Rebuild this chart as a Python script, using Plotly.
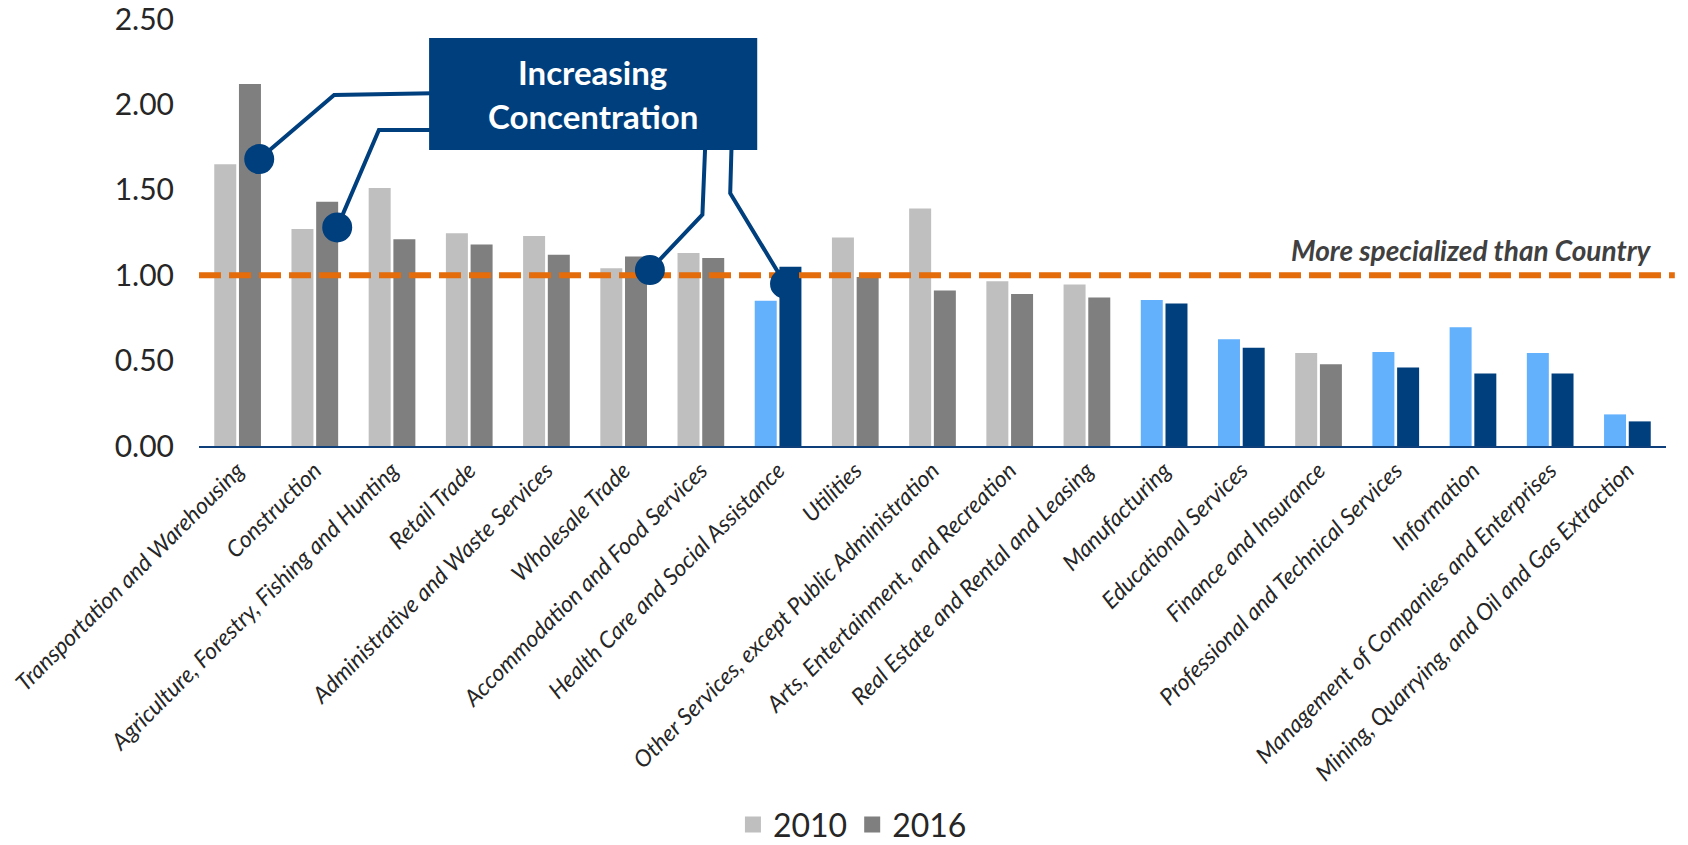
import plotly.graph_objects as go

# Location quotients by industry
industries = [
    "Transportation and Warehousing",
    "Construction",
    "Agriculture, Forestry, Fishing and Hunting",
    "Retail Trade",
    "Administrative and Waste Services",
    "Wholesale Trade",
    "Accommodation and Food Services",
    "Health Care and Social Assistance",
    "Utilities",
    "Other Services, except Public Administration",
    "Arts, Entertainment, and Recreation",
    "Real Estate and Rental and Leasing",
    "Manufacturing",
    "Educational Services",
    "Finance and Insurance",
    "Professional and Technical Services",
    "Information",
    "Management of Companies and Enterprises",
    "Mining, Quarrying, and Oil and Gas Extraction",
]
lq_2010 = [1.65, 1.27, 1.51, 1.245, 1.23, 1.04, 1.13, 0.85, 1.22, 1.39,
           0.965, 0.945, 0.855, 0.625, 0.545, 0.55, 0.695, 0.545, 0.185]
lq_2016 = [2.12, 1.43, 1.21, 1.18, 1.12, 1.11, 1.10, 1.05, 0.99, 0.91,
           0.89, 0.87, 0.835, 0.575, 0.478, 0.46, 0.425, 0.425, 0.144]

# Industries shown in blue
highlighted = {
    "Health Care and Social Assistance",
    "Manufacturing",
    "Educational Services",
    "Professional and Technical Services",
    "Information",
    "Management of Companies and Enterprises",
    "Mining, Quarrying, and Oil and Gas Extraction",
}

# Industries called out as increasing concentration: (industry, point on the 2016 bar)
callouts = [
    ("Transportation and Warehousing", 1.68),
    ("Construction", 1.28),
    ("Wholesale Trade", 1.03),
    ("Health Care and Social Assistance", 0.95),
]
callout_dx = [0.28, 0.29, 0.34, 0.09]

GREY_LIGHT, GREY_DARK = "#BFBFBF", "#7F7F7F"
BLUE_LIGHT, NAVY = "#63B1FD", "#003F7D"
ORANGE = "#E46C0A"
FONT = "Lato"

c2010 = [BLUE_LIGHT if c in highlighted else GREY_LIGHT for c in industries]
c2016 = [NAVY if c in highlighted else GREY_DARK for c in industries]

fig = go.Figure()
fig.add_trace(go.Bar(x=industries, y=lq_2010, name="2010", showlegend=False,
                     marker=dict(color=c2010, line=dict(width=0))))
fig.add_trace(go.Bar(x=industries, y=lq_2016, name="2016", showlegend=False,
                     marker=dict(color=c2016, line=dict(width=0))))
# legend keys (grey squares for each year)
for name, col in (("2010", GREY_LIGHT), ("2016", GREY_DARK)):
    fig.add_trace(go.Scatter(x=[None], y=[None], mode="markers", name=name,
                             marker=dict(symbol="square", size=16, color=col)))

shapes = []
# national benchmark line (LQ = 1)
shapes.append(dict(type="line", xref="paper", yref="y", x0=0, x1=1.006, y0=1, y1=1,
                   line=dict(color=ORANGE, width=6, dash="22px,8px")))

# connector paths from the label box to the bars
idx = {c: i for i, c in enumerate(industries)}
elbows = [
    [(1.25, 2.055), (2.7, 2.067)],
    [(1.83, 1.85), (2.7, 1.85)],
    [(6.02, 1.355), (6.06, 1.8)],
    [(6.38, 1.48), (6.40, 1.8)],
]
for (name, yv), dx, pts in zip(callouts, callout_dx, elbows):
    x0 = idx[name] + dx
    path = f"M{x0},{yv}" + "".join(f" L{px},{py}" for px, py in pts)
    shapes.append(dict(type="path", xref="x", yref="y", path=path,
                       line=dict(color=NAVY, width=4)))
for (name, yv), dx in zip(callouts, callout_dx):
    x0 = idx[name] + dx
    shapes.append(dict(type="circle", xref="x", yref="y",
                       xsizemode="pixel", ysizemode="pixel",
                       xanchor=x0, yanchor=yv, x0=-15, x1=15, y0=-15, y1=15,
                       fillcolor=NAVY, line=dict(width=0)))
# label box
shapes.append(dict(type="rect", xref="x", yref="y", x0=2.48, x1=6.73, y0=1.733, y1=2.389,
                   fillcolor=NAVY, line=dict(width=0)))

annotations = [
    dict(text="<b>Increasing</b>", xref="x", yref="y", x=4.60, y=2.187,
         showarrow=False, font=dict(family=FONT, size=33, color="white")),
    dict(text="<b>Concentration</b>", xref="x", yref="y", x=4.60, y=1.935,
         showarrow=False, font=dict(family=FONT, size=33, color="white")),
    dict(text="<b><i>More specialized than Country</i></b>", xref="paper", yref="y",
         x=0.992, y=1.148, xanchor="right", yanchor="middle", showarrow=False,
         font=dict(family=FONT, size=28, color="#404040")),
]

fig.update_layout(
    width=1688, height=845,
    margin=dict(l=199, r=22, t=19, b=399),
    paper_bgcolor="white", plot_bgcolor="white",
    barmode="group", bargap=0.36, bargroupgap=0.11,
    font=dict(family=FONT, color="#262626"),
    shapes=shapes, annotations=annotations,
    showlegend=True,
    legend=dict(orientation="h", xref="container", yref="container",
                x=0.505, y=0.024, xanchor="center", yanchor="middle",
                font=dict(family=FONT, size=32, color="#262626"),
                itemwidth=30, traceorder="normal",
                bgcolor="rgba(0,0,0,0)"),
)
fig.update_xaxes(showline=True, linecolor="#0E3F7A", linewidth=2, ticks="",
                 showgrid=False, tickangle=-45, automargin=False,
                 tickfont=dict(family=FONT, size=23, style="italic", color="#262626"))
fig.update_yaxes(range=[0, 2.5], dtick=0.5, tickformat=".2f", showgrid=False,
                 zeroline=False, showline=False, ticks="", ticklabelstandoff=24,
                 automargin=False, ticklabeloverflow="allow",
                 tickfont=dict(family=FONT, size=30, color="#262626"))

fig.write_html("out.html")
